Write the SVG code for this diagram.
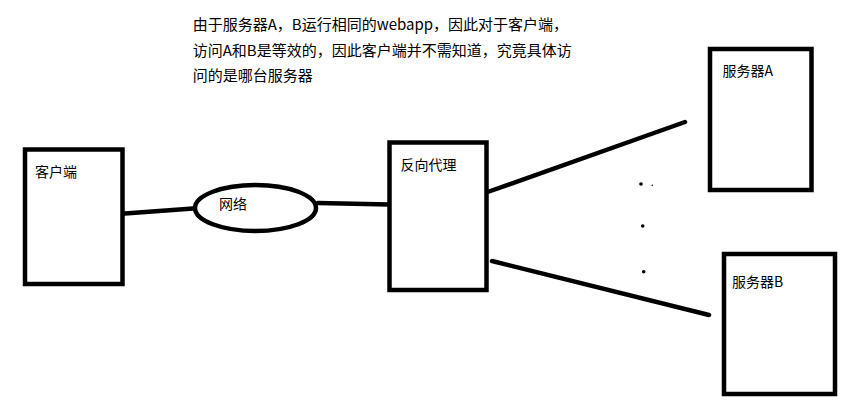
<svg xmlns="http://www.w3.org/2000/svg" width="862" height="403" viewBox="0 0 862 403">
<style>
.box{fill:none;stroke:#000;stroke-width:4.5}
.ln{stroke:#000;stroke-width:4.5;stroke-linecap:round;fill:none}
text{font-family:"Noto Sans CJK SC","Liberation Sans",sans-serif;font-size:14px;fill:#000}
.cap{font-size:15px}
</style>
<rect width="862" height="403" fill="#fff"/>
<g id="caption">
<text class="cap" x="192.7" y="30">由于服务器A，B运行相同的webapp，因此对于客户端，</text>
<text class="cap" x="192.7" y="55.5">访问A和B是等效的，因此客户端并不需知道，究竟具体访</text>
<text class="cap" x="192.7" y="80.5">问的是哪台服务器</text>
</g>
<g id="connectors">
<line class="ln" x1="125" y1="213.5" x2="193" y2="208.5"/>
<line class="ln" x1="318" y1="203" x2="389" y2="204.5"/>
<line class="ln" x1="489" y1="191.5" x2="685" y2="122"/>
<line class="ln" x1="492" y1="261" x2="709" y2="315"/>
</g>
<g id="client">
<rect class="box" x="25" y="149.5" width="97.5" height="134.5"/>
<text x="35" y="177">客户端</text>
</g>
<g id="network">
<ellipse class="box" cx="255.5" cy="208" rx="60.5" ry="23" stroke-width="4"/>
<text x="219" y="209">网络</text>
</g>
<g id="proxy">
<rect class="box" x="389.5" y="142.5" width="97" height="147.5"/>
<text x="400.5" y="170">反向代理</text>
</g>
<g id="serverA">
<rect class="box" x="710" y="49" width="101.5" height="141"/>
<text x="722.5" y="76">服务器A</text>
</g>
<g id="serverB">
<rect class="box" x="724" y="254" width="111" height="140"/>
<text x="732" y="287">服务器B</text>
</g>
<g id="dots">
<circle cx="641" cy="184" r="1.8"/>
<circle cx="652.3" cy="185.3" r="0.8"/>
<circle cx="642.7" cy="226" r="1.8"/>
<circle cx="643.7" cy="271.7" r="1.8"/>
</g>
</svg>
